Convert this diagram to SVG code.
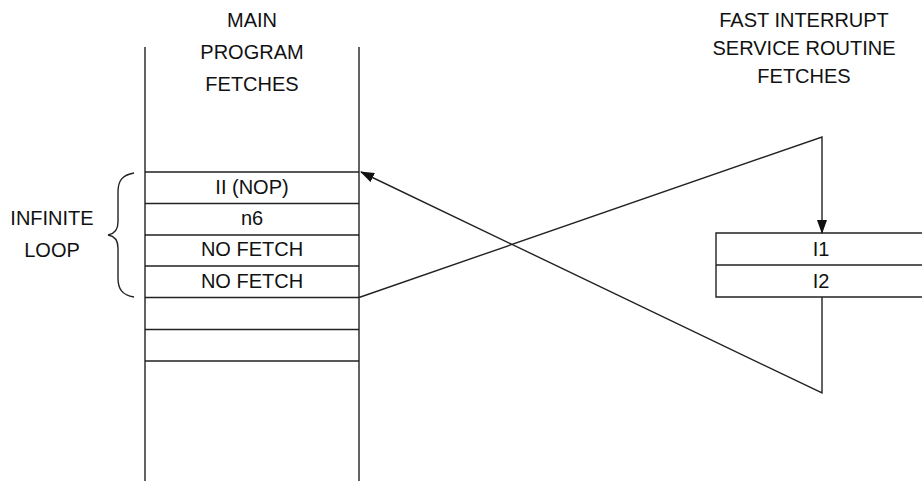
<svg xmlns="http://www.w3.org/2000/svg" width="922" height="481" viewBox="0 0 922 481">
<style>
text{font-family:"Liberation Sans",Arial,sans-serif;font-size:20px;fill:#111;text-anchor:middle}
.ln{stroke:#222;stroke-width:1.4;fill:none}
</style>
<defs>
<marker id="ah" markerWidth="14" markerHeight="10" refX="13" refY="5" orient="auto" markerUnits="userSpaceOnUse">
<path d="M0,0 L14,5 L0,10 Z" fill="#111"/>
</marker>
</defs>
<rect width="922" height="481" fill="#fff"/>
<g id="main-title">
<text x="252" y="27">MAIN</text>
<text x="252" y="59">PROGRAM</text>
<text x="252" y="91">FETCHES</text>
</g>
<g id="isr-title">
<text x="804" y="27">FAST INTERRUPT</text>
<text x="804" y="55">SERVICE ROUTINE</text>
<text x="804" y="83">FETCHES</text>
</g>
<g id="main-column">
<path class="ln" d="M145,47 V481 M359,47 V481"/>
<path class="ln" d="M145,172 H359 M145,203.5 H359 M145,235 H359 M145,266 H359 M145,297.5 H359 M145,329.5 H359 M145,361 H359"/>
<text x="252" y="194">II (NOP)</text>
<text x="252" y="225">n6</text>
<text x="252" y="256">NO FETCH</text>
<text x="252" y="288">NO FETCH</text>
</g>
<g id="loop-label">
<path class="ln" d="M134,173 C122,175 118,181 118,192 V222 C118,230 114,234 108,235 C114,236 118,240 118,248 V278 C118,289 122,295 134,297"/>
<text x="52" y="225">INFINITE</text>
<text x="52" y="257">LOOP</text>
</g>
<g id="isr-box">
<path class="ln" d="M922,233 H716 V297 H922 M716,265 H922"/>
<text x="821" y="256">I1</text>
<text x="821" y="288">I2</text>
</g>
<g id="connectors">
<path class="ln" d="M359,297.5 L822,137 V233" marker-end="url(#ah)"/>
<path class="ln" d="M822,297 V393 L361,172" marker-end="url(#ah)"/>
</g>
</svg>
